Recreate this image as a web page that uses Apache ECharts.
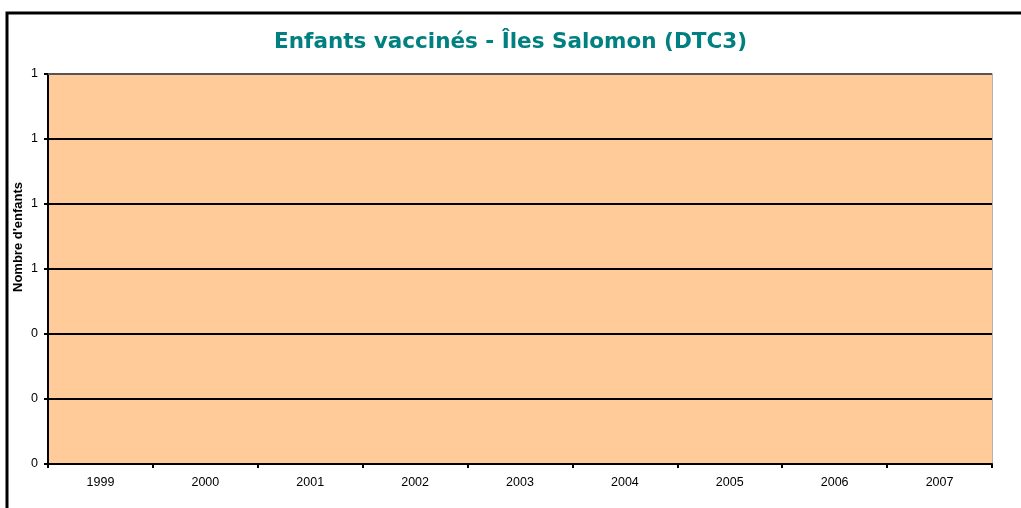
<!DOCTYPE html>
<html>
<head>
<meta charset="utf-8">
<script src="https://cdn.jsdelivr.net/npm/echarts@6/dist/echarts.min.js"></script>
<style>
html,body{margin:0;padding:0;background:#fff;}
#c{width:1021px;height:508px;}
</style>
</head>
<body>
<div id="c"></div>
<script>
var categories = ['1999','2000','2001','2002','2003','2004','2005','2006','2007'];
var dtc3Values = [null, null, null, null, null, null, null, null, null];
var yTicks = [0, 0.2, 0.4, 0.6, 0.8, 1, 1.2];

var chart = echarts.init(document.getElementById('c'), null, {renderer: 'canvas'});
chart.setOption({
  animation: false,
  backgroundColor: '#ffffff',
  title: {
    text: 'Enfants vaccinés - Îles Salomon (DTC3)',
    left: 'center',
    top: 26,
    textStyle: {fontFamily: 'DejaVu Sans', fontWeight: 'bold', fontSize: 21.5, color: '#008080'}
  },
  graphic: [
    {type: 'rect', shape: {x: 7, y: 13, width: 1030, height: 520}, style: {fill: 'none', stroke: '#000', lineWidth: 3}, silent: true, z: 100},
    {type: 'rect', shape: {x: 48, y: 74, width: 944, height: 390}, style: {fill: 'none', stroke: '#999', lineWidth: 1.5}, silent: true, z: -1},
    {type: 'line', shape: {x1: 48, y1: 74, x2: 992, y2: 74}, style: {stroke: '#555', lineWidth: 2}, silent: true, z: 5},
    {type: 'text', x: 18, y: 237, rotation: Math.PI / 2, style: {text: "Nombre d'enfants", fontFamily: 'Liberation Sans', fontWeight: 'bold', fontSize: 13, fill: '#000', textAlign: 'center', textVerticalAlign: 'middle'}, silent: true}
  ],
  grid: {left: 48, right: 29, top: 74, bottom: 44, show: true, backgroundColor: '#FFCC99', borderWidth: 0},
  xAxis: {
    type: 'category',
    data: categories,
    boundaryGap: true,
    axisLine: {show: true, lineStyle: {color: '#000', width: 2}},
    axisTick: {show: true, alignWithLabel: false, length: 4, lineStyle: {color: '#000', width: 2}},
    axisLabel: {fontFamily: 'Liberation Sans', fontSize: 12.5, color: '#000', margin: 12},
    splitLine: {show: false}
  },
  yAxis: {
    type: 'value',
    min: 0, max: 1.2, interval: 0.2,
    axisLine: {show: true, lineStyle: {color: '#000', width: 2}},
    axisTick: {show: true, length: 4, lineStyle: {color: '#000', width: 2}},
    axisLabel: {fontFamily: 'Liberation Sans', fontSize: 12.5, color: '#000', margin: 10,
      formatter: function (v) { return String(Math.round(v)); }},
    splitLine: {show: true, lineStyle: {color: '#000', width: 2}}
  },
  series: [{
    type: 'bar',
    name: 'DTC3',
    data: dtc3Values
  }]
});
</script>
</body>
</html>
